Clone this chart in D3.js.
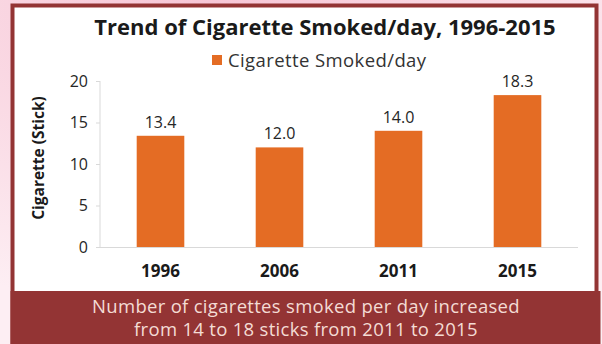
<!DOCTYPE html>
<html><head><meta charset="utf-8">
<script src="https://cdn.jsdelivr.net/npm/d3@7"></script>
<style>body{margin:0;background:#fff;}svg{display:block;font-family:"Open Sans", sans-serif;}</style>
</head><body>
<svg id="c" width="602" height="344"></svg>
<script>
const years = ["1996", "2006", "2011", "2015"];
const sticks = [13.4, 12.0, 14.0, 18.3];
const yTicks = [0, 5, 10, 15, 20];
const title = "Trend of Cigarette Smoked/day, 1996-2015";
const seriesName = "Cigarette Smoked/day";
const yTitle = "Cigarette (Stick)";
const note = ["Number of cigarettes smoked per day increased", "from 14 to 18 sticks from 2011 to 2015"];

const svg = d3.select("#c");
const defs = svg.append("defs");
const g = defs.append("radialGradient").attr("id","bg").attr("cx","0.35").attr("cy","0").attr("r","0.9");
g.append("stop").attr("offset","0").attr("stop-color","#f7c6d6");
g.append("stop").attr("offset","1").attr("stop-color","#fdeef3");
svg.append("rect").attr("width",602).attr("height",344).attr("fill","url(#bg)");

svg.append("rect").attr("x",12.5).attr("y",5.5).attr("width",584).attr("height",350)
  .attr("fill","#fff").attr("stroke","#933434").attr("stroke-width",4);
svg.append("rect").attr("x",10.5).attr("y",291).attr("width",590).attr("height",60).attr("fill","#933434");

const x = d3.scaleBand().domain(years).range([101, 577]).paddingInner(0.6).paddingOuter(0.3);
const y = d3.scaleLinear().domain([0, 20]).range([247, 81]);

const ya = svg.append("g").attr("transform","translate(100,0)")
  .call(d3.axisLeft(y).tickValues(yTicks).tickSize(4).tickPadding(8));
ya.select(".domain").attr("stroke","#d9d9d9").attr("d","M0,81V247");
ya.selectAll(".tick line").attr("stroke","#d9d9d9");
ya.selectAll("text").attr("font-size",16).attr("fill","#262626").attr("font-family","Open Sans");

svg.append("line").attr("x1",96).attr("x2",578).attr("y1",y(0)+0.5).attr("y2",y(0)+0.5).attr("stroke","#d9d9d9");

const xa = svg.append("g").attr("transform",`translate(0,${y(0)})`)
  .call(d3.axisBottom(x).tickSize(0).tickPadding(18));
xa.select(".domain").remove();
xa.selectAll("text").attr("font-size",17).attr("font-weight","bold").attr("fill","#1a1a1a").attr("font-family","Open Sans");

svg.selectAll(".bar").data(years).enter().append("rect")
  .attr("x", d => x(d)).attr("width", x.bandwidth())
  .attr("y", (d,i) => y(sticks[i])).attr("height", (d,i) => y(0) - y(sticks[i]))
  .attr("fill","#e46c24");

svg.selectAll(".lbl").data(years).enter().append("text")
  .attr("x", d => x(d) + x.bandwidth()/2).attr("y", (d,i) => y(sticks[i]) - 8)
  .attr("text-anchor","middle").attr("font-size",16).attr("fill","#262626")
  .text((d,i) => d3.format(".1f")(sticks[i]));

svg.append("text").attr("x",325).attr("y",35).attr("text-anchor","middle")
  .attr("font-size",22).attr("font-weight","bold").attr("fill","#1a1a1a").text(title);

svg.append("rect").attr("x",212).attr("y",55).attr("width",10).attr("height",10).attr("fill","#e46c24");
svg.append("text").attr("x",228).attr("y",67).attr("font-size",18.5).attr("letter-spacing",0.4).attr("fill","#333").text(seriesName);

svg.append("text").attr("transform","translate(44,158) rotate(-90)").attr("text-anchor","middle")
  .attr("font-size",15.5).attr("font-weight","bold").attr("fill","#1a1a1a").text(yTitle);

svg.selectAll(".note").data(note).enter().append("text")
  .attr("x",306).attr("y",(d,i)=>313 + i*23).attr("text-anchor","middle")
  .attr("font-size",18.5).attr("letter-spacing",0.3).attr("fill","#f4dcd4").text(d=>d);
</script>
</body></html>
